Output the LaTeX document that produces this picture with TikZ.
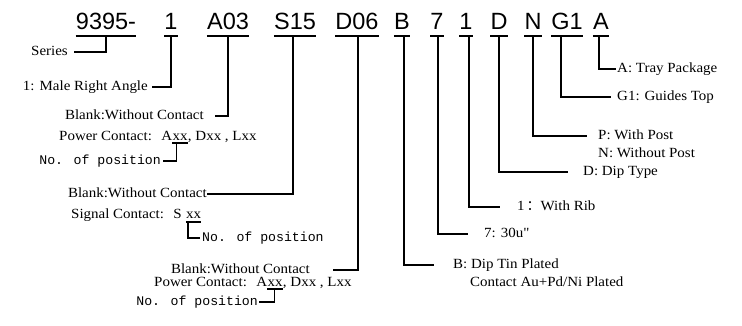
\documentclass[tikz,border=0pt]{standalone}
\usepackage{fontspec}
\setmainfont[FakeStretch=1.07]{Liberation Serif}
\newfontfamily\codefont{Liberation Sans}
\newfontfamily\monofont{Liberation Mono}
\newfontfamily\cjk{Noto Sans CJK SC}
\newcommand\straightquote{\XeTeXglyph\XeTeXcharglyph"22\relax}
\begin{document}
\begin{tikzpicture}[x=1pt,y=-1pt,
  code/.style={font=\codefont\fontsize{23.5}{28}\selectfont, inner sep=0pt, text depth=6pt, anchor=base},
  lbl/.style={font=\fontsize{14}{17}\selectfont, inner sep=0pt, text height=7pt, text depth=0pt},
  seg/.style={font=\fontsize{14}{17}\selectfont, inner sep=0pt, anchor=base west},
  mono/.style={font=\monofont\fontsize{13.2}{16}\selectfont, inner sep=0pt, text height=7pt, text depth=0pt},
  conn/.style={line width=1.6pt},
  uline/.style={line width=1.6pt}]
\useasboundingbox (0,0) rectangle (742,326);

% ---- code segments
\node[code] (c9395) at (106,30) {9395-};
\node[code] (c1)    at (171,30) {1};
\node[code] (cA03)  at (228,30) {A03};
\node[code] (cS15)  at (295,30) {S15};
\node[code] (cD06)  at (357,30) {D06};
\node[code] (cB)    at (402,30) {B};
\node[code] (c7)    at (437,30) {7};
\node[code] (c1b)   at (466,30) {1};
\node[code] (cD)    at (499,30) {D};
\node[code] (cN)    at (533,30) {N};
\node[code] (cG1)   at (567,30) {G1};
\node[code] (cA)    at (601,30) {A};
\foreach \n in {c9395,c1,cA03,cS15,cD06,cB,c7,c1b,cD,cN,cG1,cA}
  \draw[uline] (\n.south west) -- (\n.south east);

% ---- left labels
\node[lbl, anchor=east] (lSeries) at (68,52) {Series};
\node[lbl, anchor=east] (lMale) at (148,87) {1: Male Right Angle};
\node[lbl, anchor=east] (lBlank1) at (204,116) {Blank:Without Contact};
\node[lbl, anchor=east] (lBlank2) at (207,194) {Blank:Without Contact};
\node[lbl, anchor=east] (lBlank3) at (310,270) {Blank:Without Contact};

% power contact 1
\node[seg] (pa0) at (59,141) {Power Contact:};
\node[seg] (pa) at ([xshift=9pt]pa0.base east) {A};
\node[seg, text depth=2pt] (pax) at (pa.base east) {xx};
\node[seg] (par) at (pax.base east) {, Dxx , Lxx};
\node[mono, anchor=east] (pos1) at (161,161) {No. of position};

% signal contact
\node[seg] (sa0) at (71,218.5) {Signal Contact:};
\node[seg] (sa) at ([xshift=9pt]sa0.base east) {S};
\node[seg, text depth=3pt] (sax) at ([xshift=4pt]sa.base east) {xx};
\node[mono, anchor=west] (pos2) at (202,238) {No. of position};

% power contact 2
\node[seg] (pb0) at (154,286.5) {Power Contact:};
\node[seg] (pb) at ([xshift=9pt]pb0.base east) {A};
\node[seg, text depth=2pt] (pbx) at (pb.base east) {xx};
\node[seg] (pbr) at (pbx.base east) {, Dxx , Lxx};
\node[mono, anchor=east] (pos3) at (258,302) {No. of position};

% ---- right labels
\node[lbl, anchor=west] (lA)  at (617,69)  {A: Tray Package};
\node[lbl, anchor=west] (lG1) at (617,97)  {G1: Guides Top};
\node[lbl, anchor=west] (lP)  at (598,136) {P: With Post};
\node[lbl, anchor=west] (lNp) at (598,154) {N: Without Post};
\node[lbl, anchor=west] (lD)  at (583,172) {D: Dip Type};
\node[lbl, anchor=west] (lR)  at (517,207) {1\hspace{2pt}{\cjk ：}With Rib};
\node[lbl, anchor=west] (l7)  at (484,234) {7: 30u\straightquote};
\node[lbl, anchor=west] (lB)  at (453,265) {B: Dip Tin Plated};
\node[lbl, anchor=west] (lB2) at (470,283) {Contact Au+Pd/Ni Plated};

% ---- connectors
\draw[conn] (c9395.south) |- ([xshift=6pt]lSeries.east);
\draw[conn] (c1.south) |- ([xshift=4pt]lMale.east);
\draw[conn] (cA03.south) |- ([xshift=11pt]lBlank1.east);
\draw[conn] ([xshift=-2pt]cS15.south) |- (lBlank2.east);
\draw[conn] ([xshift=1pt]cD06.south) |- ([xshift=23pt]lBlank3.east);

\draw[uline] (pax.south west) -- (pax.south east);
\draw[conn] ([xshift=4pt]pax.south west) |- ([xshift=2pt]pos1.east);
\draw[uline] (sax.south west) -- (sax.south east);
\draw[conn] ([xshift=2pt]sax.south west) |- ([xshift=-2pt]pos2.west);
\draw[uline] (pbx.south west) -- (pbx.south east);
\draw[conn] ([xshift=7pt]pbx.south west) |- ([xshift=1pt]pos3.east);

\draw[conn] ([xshift=-2pt]cA.south) |- ([xshift=-1pt]lA.west);
\draw[conn] ([xshift=-6pt]cG1.south) |- ([xshift=-6pt]lG1.west);
\draw[conn] (cN.south) |- ([xshift=-11pt]lP.west);
\draw[conn] (cD.south) |- ([xshift=-15pt]lD.west);
\draw[conn] ([xshift=3pt]c1b.south) |- ([xshift=-17pt]lR.west);
\draw[conn] ([xshift=1pt]c7.south) |- ([xshift=-16pt]l7.west);
\draw[conn] ([xshift=2pt]cB.south) |- ([xshift=-19pt]lB.west);
\end{tikzpicture}
\end{document}
